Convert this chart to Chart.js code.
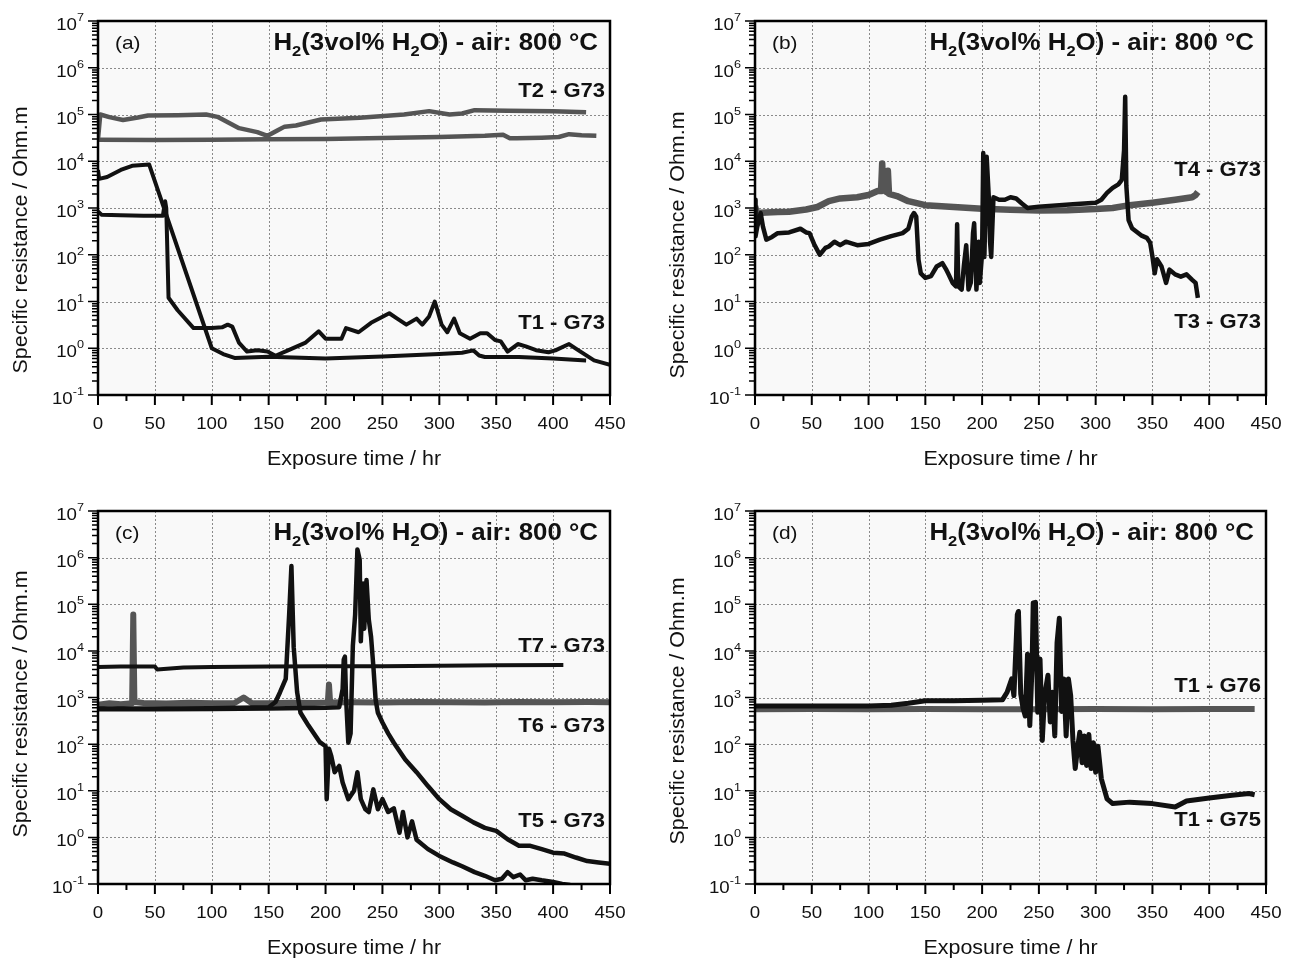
<!DOCTYPE html>
<html>
<head>
<meta charset="utf-8">
<title>Specific resistance vs exposure time</title>
<script src="https://cdn.jsdelivr.net/npm/chart.js@4.4.0/dist/chart.umd.min.js"></script>
<style>
  body { margin: 0; background: #fff; }
  canvas { position: absolute; }
</style>
</head>
<body>
<canvas id="chartA" width="648" height="479" style="left:0;top:0"></canvas>
<canvas id="chartB" width="648" height="479" style="left:648px;top:0"></canvas>
<canvas id="chartC" width="648" height="479" style="left:0;top:479px"></canvas>
<canvas id="chartD" width="648" height="479" style="left:648px;top:479px"></canvas>
<script>
// axis ticks
const xTicks = [0, 50, 100, 150, 200, 250, 300, 350, 400, 450];
const xMinorTicks = [25, 75, 125, 175, 225, 275, 325, 375, 425];
const yExponents = [-1, 0, 1, 2, 3, 4, 5, 6, 7];

// (a) T2 - G73 (two grey curves) and T1 - G73 (two black curves)
const aT2UpperTime = [0, 2, 10, 22, 35, 44, 70, 95, 105, 124, 140, 149, 158, 164, 174, 196, 230, 269, 291, 309, 320, 331, 360, 400, 429];
const aT2UpperRes = [3.0e4, 1.0e5, 8.8e4, 7.6e4, 8.6e4, 9.5e4, 9.6e4, 1.0e5, 8.9e4, 5.1e4, 4.2e4, 3.5e4, 4.6e4, 5.5e4, 5.8e4, 7.8e4, 8.5e4, 1.0e5, 1.18e5, 1.0e5, 1.05e5, 1.24e5, 1.2e5, 1.18e5, 1.12e5];
const aT2LowerTime = [0, 50, 100, 150, 200, 250, 300, 340, 356, 362, 368, 390, 405, 414, 425, 438];
const aT2LowerRes = [2.9e4, 2.85e4, 2.9e4, 2.95e4, 3.0e4, 3.15e4, 3.3e4, 3.5e4, 3.7e4, 3.1e4, 3.1e4, 3.2e4, 3.3e4, 3.8e4, 3.6e4, 3.5e4];
const aT1FirstTime = [0, 1, 8, 20, 30, 45, 100, 110, 120, 150, 200, 250, 300, 320, 330, 335, 340, 370, 400, 429];
const aT1FirstRes = [6.5e3, 4.2e3, 4.6e3, 6.5e3, 8.0e3, 8.5e3, 1.0, 0.75, 0.62, 0.66, 0.6, 0.67, 0.75, 0.8, 0.9, 0.7, 0.65, 0.65, 0.6, 0.55];
const aT1SecondTime = [0, 3, 20, 40, 57, 59, 60, 62, 70, 84, 100, 109, 114, 118, 124, 131, 140, 149, 156, 167, 182, 194, 200, 214, 218, 229, 240, 256, 263, 271, 280, 285, 291, 296, 302, 307, 313, 318, 327, 336, 342, 349, 354, 360, 369, 376, 385, 396, 402, 414, 422, 436, 450];
const aT1SecondRes = [8.5e2, 7.2e2, 7.0e2, 6.8e2, 6.8e2, 1.4e3, 1.0e3, 12, 6.5, 2.7, 2.7, 2.8, 3.2, 2.9, 1.3, 0.85, 0.91, 0.85, 0.69, 0.9, 1.3, 2.3, 1.6, 1.6, 2.7, 2.2, 3.5, 5.6, 4.3, 3.2, 4.3, 3.2, 4.8, 10, 3.2, 2.2, 4.3, 2.1, 1.6, 2.1, 2.1, 1.5, 1.4, 0.85, 1.23, 1.1, 0.91, 0.82, 0.9, 1.23, 0.91, 0.55, 0.44];

// (b) T4 - G73 (grey) and T3 - G73 (black)
const bT4Time = [0, 1, 2, 10, 20, 30, 45, 55, 65, 75, 90, 100, 108, 111, 112, 113, 116, 117, 118, 125, 135, 150, 175, 200, 225, 250, 275, 300, 315, 330, 350, 370, 385, 388, 390];
const bT4Res = [1.1e3, 9e2, 7.8e2, 8e2, 8.2e2, 8.3e2, 9.3e2, 1.05e3, 1.4e3, 1.6e3, 1.7e3, 1.9e3, 2.3e3, 2.3e3, 9e3, 2.4e3, 2.2e3, 6.3e3, 2.0e3, 1.8e3, 1.4e3, 1.15e3, 1.05e3, 9.6e2, 9.2e2, 8.8e2, 9.0e2, 9.5e2, 1.0e3, 1.15e3, 1.3e3, 1.5e3, 1.7e3, 1.9e3, 2.2e3];
const bT3Time = [0, 0.5, 2, 5, 7, 10, 15, 20, 30, 40, 45, 48, 52, 57, 62, 65, 70, 75, 80, 90, 100, 110, 120, 130, 135, 138, 140, 142, 144, 146, 150, 155, 160, 165, 168, 170, 174, 177, 178, 179, 182, 184, 186, 188, 190, 192, 193, 195, 197, 198, 200, 201, 202, 204, 206, 207, 208, 210, 215, 220, 225, 230, 235, 240, 250, 280, 300, 305, 310, 315, 320, 323, 325, 326, 327, 329, 332, 340, 345, 348, 350, 352, 354, 358, 362, 365, 370, 375, 380, 385, 388, 390];
const bT3Res = [1.5e3, 2.5e2, 4e2, 7.8e2, 4e2, 2.1e2, 2.4e2, 2.9e2, 3.0e2, 3.6e2, 3.0e2, 2.9e2, 1.7e2, 1.0e2, 1.4e2, 1.5e2, 1.9e2, 1.6e2, 1.9e2, 1.6e2, 1.7e2, 2.1e2, 2.5e2, 2.9e2, 3.6e2, 6.5e2, 7.8e2, 6.5e2, 78, 40, 32, 35, 56, 66, 50, 40, 25, 21, 4.5e2, 21, 18, 60, 1.6e2, 18, 25, 2.9e2, 4.7e2, 18, 1.9e2, 25, 1.1e2, 1.5e4, 90, 1.25e4, 1.5e3, 1.9e2, 90, 1.7e3, 1.5e3, 1.5e3, 1.7e3, 1.6e3, 1.25e3, 1.0e3, 1.07e3, 1.2e3, 1.3e3, 1.5e3, 2.1e3, 2.7e3, 3.2e3, 4e3, 1.7e4, 2.4e5, 3e3, 5.5e2, 3.7e2, 2.6e2, 2.3e2, 1.8e2, 91, 40, 80, 56, 25, 48, 38, 34, 38, 29, 25, 12];

// (c) T7 - G73 (black), T6 - G73 (grey), T5 - G73 (two black curves)
const cT7Time = [0, 20, 50, 52, 75, 100, 150, 200, 250, 300, 350, 409];
const cT7Res = [4.5e3, 4.6e3, 4.6e3, 4.0e3, 4.4e3, 4.5e3, 4.6e3, 4.7e3, 4.7e3, 4.8e3, 4.9e3, 5.0e3];
const cT6Time = [0, 10, 20, 30, 31, 32, 40, 60, 80, 100, 120, 128, 135, 150, 170, 190, 202, 203, 204, 220, 250, 280, 310, 340, 370, 400, 430, 450];
const cT6Res = [7e2, 7.5e2, 7.2e2, 7.5e2, 6e4, 8e2, 7.6e2, 7.4e2, 7.7e2, 7.5e2, 7.6e2, 1.0e3, 7.6e2, 7.5e2, 7.7e2, 7.6e2, 7.8e2, 1.9e3, 7.8e2, 7.9e2, 7.8e2, 8.0e2, 7.9e2, 7.8e2, 8.0e2, 7.9e2, 8.0e2, 7.9e2];
const cT5FirstTime = [0, 50, 100, 150, 156, 160, 165, 168, 170, 172, 175, 178, 185, 195, 200, 201, 203, 205, 208, 212, 215, 220, 225, 228, 231, 235, 238, 242, 246, 250, 255, 260, 265, 268, 272, 276, 280, 290, 300, 312, 320, 331, 340, 349, 355, 360, 365, 371, 376, 382, 390, 400, 408, 415];
const cT5FirstRes = [5.8e2, 5.8e2, 5.9e2, 6.2e2, 8e2, 1.3e3, 2.5e3, 6e4, 6.6e5, 1.2e4, 1.3e3, 4.7e2, 2.5e2, 1.1e2, 90, 6.6, 80, 56, 25, 34, 15, 6.6, 10, 25, 6.6, 4, 3.5, 10.7, 4, 6.6, 3.5, 4.2, 1.26, 3.5, 1.0, 2.2, 0.89, 0.56, 0.4, 0.29, 0.24, 0.18, 0.15, 0.12, 0.13, 0.18, 0.14, 0.16, 0.12, 0.13, 0.12, 0.11, 0.1, 0.095];
const cT5SecondTime = [0, 50, 100, 150, 200, 212, 215, 216, 217, 218, 220, 222, 224, 226, 228, 230, 231, 233, 234, 236, 238, 240, 242, 244, 246, 250, 255, 260, 270, 280, 290, 300, 310, 320, 330, 340, 350, 360, 370, 380, 390, 400, 410, 420, 430, 440, 450];
const cT5SecondRes = [5.6e2, 5.6e2, 5.7e2, 5.8e2, 6.0e2, 6.2e2, 1.5e3, 6.5e3, 7.5e3, 1.0e3, 1.07e2, 1.7e2, 1.3e4, 6e4, 1.5e6, 9e5, 1.6e4, 2.8e5, 3e4, 3.3e5, 4.7e4, 2e4, 4.7e3, 9e2, 4.7e2, 2.9e2, 1.7e2, 1.07e2, 47, 25, 12.6, 6.6, 4, 2.9, 2.1, 1.6, 1.38, 0.91, 0.66, 0.66, 0.56, 0.47, 0.45, 0.37, 0.31, 0.29, 0.27];

// (d) T1 - G76 (grey) and T1 - G75 (black)
const dG76Time = [0, 50, 100, 150, 200, 250, 300, 350, 400, 440];
const dG76Res = [5.6e2, 5.7e2, 5.6e2, 5.7e2, 5.6e2, 5.6e2, 5.7e2, 5.6e2, 5.7e2, 5.7e2];
const dG75Time = [0, 50, 100, 120, 135, 150, 175, 200, 218, 222, 226, 228, 231, 232, 234, 236, 238, 240, 242, 244, 245, 247, 249, 251, 253, 255, 258, 260, 262, 264, 266, 268, 270, 272, 274, 276, 278, 280, 282, 284, 286, 288, 290, 292, 294, 296, 298, 300, 302, 305, 310, 315, 330, 350, 370, 380, 400, 420, 435, 440];
const dG75Res = [6.6e2, 6.6e2, 6.6e2, 6.8e2, 7.5e2, 8.5e2, 8.5e2, 8.7e2, 9e2, 1.3e3, 2.5e3, 1.1e3, 6e4, 7e4, 1.2e3, 6e2, 4e2, 8.5e3, 2.5e2, 4.8e3, 1.07e5, 1.1e5, 4.8e2, 6.7e3, 1.2e2, 1.1e3, 3e3, 3e2, 1.3e3, 1.5e2, 1.5e4, 5e4, 5e2, 2.5e3, 1.5e2, 2.5e3, 1.1e3, 1.2e2, 30, 80, 1.8e2, 40, 1.5e2, 35, 1.6e2, 30, 1.07e2, 25, 90, 18, 6.7, 5.3, 5.7, 5.3, 4.5, 6, 7, 8, 8.7, 8.2];

const BLACK = '#111111';
const GREY = '#555555';
const FONT = '"Liberation Sans", Arial, sans-serif';
const STRETCH = 1.1; // the original lettering is a bit wide

function zip(times, values) {
    return times.map((t, i) => ({ x: t, y: values[i] }));
}

function series(times, values, color, width) {
    return {
        data: zip(times, values),
        borderColor: color,
        borderWidth: width,
        borderJoinStyle: 'round',
        pointRadius: 0,
        tension: 0,
        fill: false
    };
}

// draw a row of text pieces (for super/subscripts), horizontally stretched
function drawRuns(ctx, runs, x, y, align) {
    let total = 0;
    runs.forEach(r => {
        ctx.font = (r.bold ? 'bold ' : '') + r.size + 'px ' + FONT;
        r.w = ctx.measureText(r.text).width * STRETCH;
        total += r.w;
    });
    let cx = align === 'right' ? x - total : (align === 'center' ? x - total / 2 : x);
    runs.forEach(r => {
        ctx.save();
        ctx.font = (r.bold ? 'bold ' : '') + r.size + 'px ' + FONT;
        ctx.translate(cx, y + (r.dy || 0));
        ctx.scale(STRETCH, 1);
        ctx.textAlign = 'left';
        ctx.textBaseline = 'alphabetic';
        ctx.fillText(r.text, 0, 0);
        ctx.restore();
        cx += r.w;
    });
}

function decorPlugin(cfg) {
    return {
        id: 'decor',
        beforeDatasetsDraw(chart) {
            const { ctx, chartArea: a, scales } = chart;
            ctx.save();
            ctx.fillStyle = '#f9f9f9';
            ctx.fillRect(a.left, a.top, a.right - a.left, a.bottom - a.top);
            ctx.strokeStyle = '#8a8a8a';
            ctx.lineWidth = 1;
            ctx.setLineDash([2, 2]);
            ctx.beginPath();
            xTicks.slice(1, -1).forEach(v => {
                const px = Math.round(scales.x.getPixelForValue(v)) + 0.5;
                ctx.moveTo(px, a.top);
                ctx.lineTo(px, a.bottom);
            });
            yExponents.slice(1, -1).forEach(k => {
                const py = Math.round(scales.y.getPixelForValue(Math.pow(10, k))) + 0.5;
                ctx.moveTo(a.left, py);
                ctx.lineTo(a.right, py);
            });
            ctx.stroke();
            ctx.restore();
        },
        afterDatasetsDraw(chart) {
            const { ctx, chartArea: a, scales } = chart;
            ctx.save();
            // frame
            ctx.strokeStyle = '#000';
            ctx.lineWidth = 2.5;
            ctx.strokeRect(a.left, a.top, a.right - a.left, a.bottom - a.top);
            // ticks
            ctx.lineWidth = 2;
            ctx.beginPath();
            xTicks.forEach(v => {
                const px = scales.x.getPixelForValue(v);
                ctx.moveTo(px, a.bottom);
                ctx.lineTo(px, a.bottom + 10);
            });
            xMinorTicks.forEach(v => {
                const px = scales.x.getPixelForValue(v);
                ctx.moveTo(px, a.bottom);
                ctx.lineTo(px, a.bottom + 6);
            });
            ctx.stroke();
            ctx.lineWidth = 1.5;
            ctx.beginPath();
            yExponents.forEach(k => {
                const py = scales.y.getPixelForValue(Math.pow(10, k));
                ctx.moveTo(a.left - 10, py);
                ctx.lineTo(a.left, py);
                if (k < 7) {
                    for (let m = 2; m <= 9; m++) {
                        const pm = scales.y.getPixelForValue(m * Math.pow(10, k));
                        ctx.moveTo(a.left - 6, pm);
                        ctx.lineTo(a.left, pm);
                    }
                }
            });
            ctx.stroke();

            ctx.fillStyle = '#111';
            // tick labels
            xTicks.forEach(v => {
                drawRuns(ctx, [{ text: String(v), size: 17 }], scales.x.getPixelForValue(v), a.bottom + 34, 'center');
            });
            yExponents.forEach(k => {
                const py = scales.y.getPixelForValue(Math.pow(10, k));
                drawRuns(ctx, [
                    { text: '10', size: 17 },
                    { text: String(k), size: 11.5, dy: -9 }
                ], a.left - 14, py + 9, 'right');
            });
            // axis titles
            drawRuns(ctx, [{ text: 'Exposure time / hr', size: 19.5 }], (a.left + a.right) / 2, a.bottom + 70, 'center');
            ctx.save();
            ctx.translate(a.left - 78, cfg.yTitleY);
            ctx.rotate(-Math.PI / 2);
            drawRuns(ctx, [{ text: 'Specific resistance / Ohm.m', size: 19.5 }], 0, 7, 'center');
            ctx.restore();
            // panel tag and header
            drawRuns(ctx, [{ text: cfg.tag, size: 19 }], a.left + 17, a.top + 28, 'left');
            drawRuns(ctx, [
                { text: 'H', size: 23.5, bold: true },
                { text: '2', size: 15, bold: true, dy: 6 },
                { text: '(3vol% H', size: 23.5, bold: true },
                { text: '2', size: 15, bold: true, dy: 6 },
                { text: 'O) - air: 800 °C', size: 23.5, bold: true }
            ], a.right - 12, a.top + 29, 'right');
            // series names
            cfg.labels.forEach(l => {
                drawRuns(ctx, [{ text: l.text, size: 20, bold: true }], a.right - 5,
                    scales.y.getPixelForValue(l.at), 'right');
            });
            ctx.restore();
        }
    };
}

function makePanel(id, datasets, pad, cfg) {
    return new Chart(document.getElementById(id), {
        type: 'line',
        data: { datasets: datasets },
        options: {
            responsive: false,
            animation: false,
            events: [],
            layout: { padding: pad },
            plugins: { legend: { display: false }, tooltip: { enabled: false } },
            scales: {
                x: { type: 'linear', min: 0, max: 450, display: false },
                y: { type: 'logarithmic', min: 0.1, max: 1e7, display: false }
            }
        },
        plugins: [decorPlugin(cfg)]
    });
}

makePanel('chartA', [
    series(aT1FirstTime, aT1FirstRes, BLACK, 4),
    series(aT1SecondTime, aT1SecondRes, BLACK, 4),
    series(aT2UpperTime, aT2UpperRes, GREY, 4.5),
    series(aT2LowerTime, aT2LowerRes, GREY, 4.5)
], { left: 98, right: 38, top: 21, bottom: 84 }, {
    tag: '(a)', yTitleY: 240,
    labels: [{ text: 'T2 - G73', at: Math.pow(10, 5.37) }, { text: 'T1 - G73', at: Math.pow(10, 0.41) }]
});

makePanel('chartB', [
    series(bT3Time, bT3Res, BLACK, 4.5),
    series(bT4Time, bT4Res, GREY, 6.5)
], { left: 107, right: 30, top: 21, bottom: 84 }, {
    tag: '(b)', yTitleY: 245,
    labels: [{ text: 'T4 - G73', at: Math.pow(10, 3.68) }, { text: 'T3 - G73', at: Math.pow(10, 0.43) }]
});

makePanel('chartC', [
    series(cT5FirstTime, cT5FirstRes, BLACK, 4.5),
    series(cT5SecondTime, cT5SecondRes, BLACK, 4.5),
    series(cT7Time, cT7Res, BLACK, 4),
    series(cT6Time, cT6Res, GREY, 6)
], { left: 98, right: 38, top: 32, bottom: 74 }, {
    tag: '(c)', yTitleY: 225,
    labels: [
        { text: 'T7 - G73', at: Math.pow(10, 3.98) },
        { text: 'T6 - G73', at: Math.pow(10, 2.26) },
        { text: 'T5 - G73', at: Math.pow(10, 0.23) }
    ]
});

makePanel('chartD', [
    series(dG75Time, dG75Res, BLACK, 5),
    series(dG76Time, dG76Res, GREY, 6)
], { left: 107, right: 30, top: 32, bottom: 74 }, {
    tag: '(d)', yTitleY: 232,
    labels: [{ text: 'T1 - G76', at: Math.pow(10, 3.12) }, { text: 'T1 - G75', at: Math.pow(10, 0.25) }]
});
</script>
</body>
</html>
